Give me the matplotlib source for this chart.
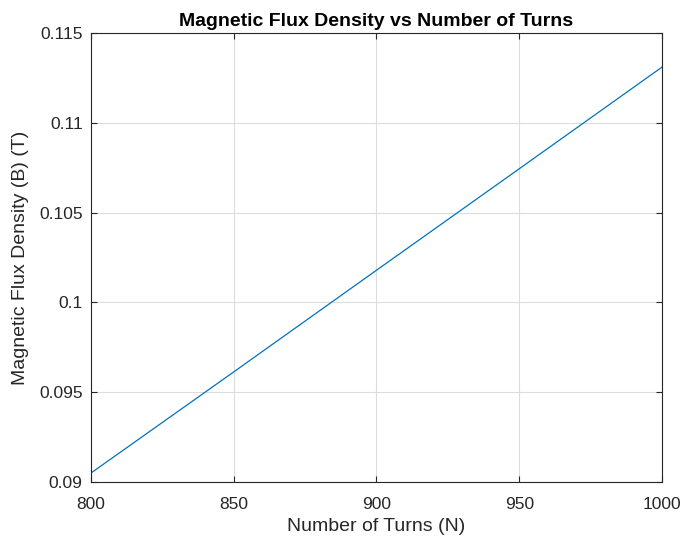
import matplotlib
matplotlib.use("Agg")
import matplotlib.pyplot as plt

turns = [800, 850, 900, 950, 1000]
flux = [0.0905, 0.09613, 0.10179, 0.10744, 0.1131]
xticks = [800, 850, 900, 950, 1000]
yticks = [0.09, 0.095, 0.1, 0.105, 0.11, 0.115]
ytick_labels = ["0.09", "0.095", "0.1", "0.105", "0.11", "0.115"]

plt.rcParams['font.family'] = ['Liberation Sans', 'DejaVu Sans']
fig = plt.figure(figsize=(6.84, 5.4), dpi=100)
ax = fig.add_axes([0.1330, 0.1074, 0.8348, 0.8315])
ax.plot(turns, flux, color='#0072BD', lw=0.9)
ax.set_xlim(800, 1000)
ax.set_ylim(0.09, 0.115)
ax.set_xticks(xticks)
ax.set_yticks(yticks)
ax.set_yticklabels(ytick_labels)
ax.grid(True, color='#dcdcdc', lw=0.8)
ax.tick_params(direction='in', top=True, right=True, labelsize=12.5, colors='#262626', length=4)
ax.tick_params(axis='x', pad=11)
ax.tick_params(axis='y', pad=6)
for s in ax.spines.values():
    s.set_color('#262626')
    s.set_linewidth(0.8)
ax.set_xlabel('Number of Turns (N)', fontsize=14, color='#262626', labelpad=4)
ax.set_ylabel('Magnetic Flux Density (B) (T)', fontsize=14, color='#262626', labelpad=7)
ax.set_title('Magnetic Flux Density vs Number of Turns', fontsize=14, fontweight='bold', pad=5)
fig.savefig('out.png', dpi=100)
